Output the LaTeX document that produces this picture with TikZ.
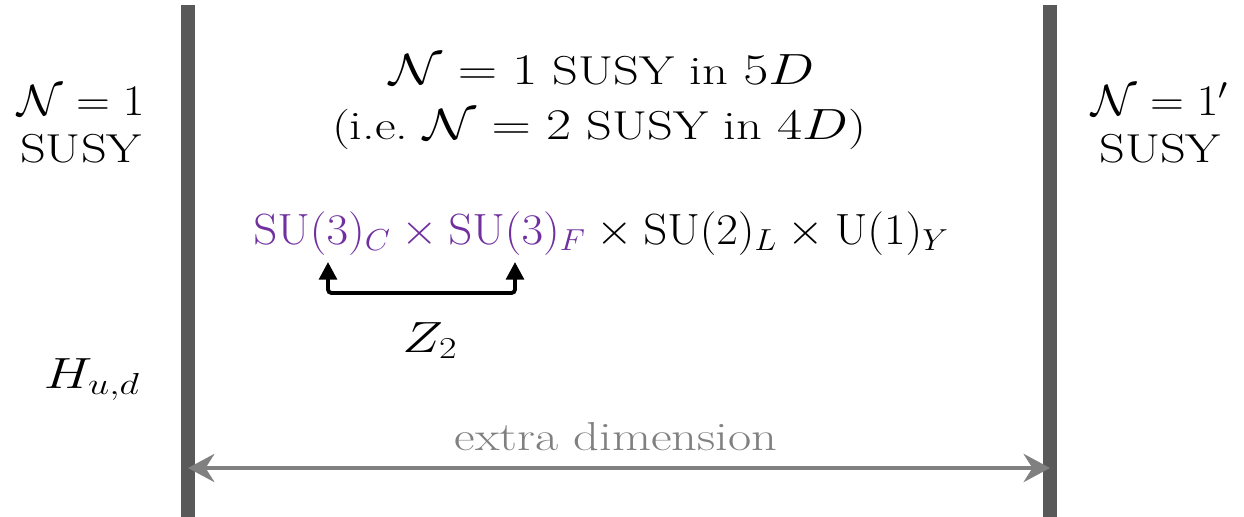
\documentclass[tikz,border=0pt]{standalone}
\usepackage{amsmath,amssymb}
\usepackage{tikz}
\usetikzlibrary{arrows.meta,calc,positioning}
\usepackage{xcolor}
\definecolor{wallgray}{HTML}{595959}
\definecolor{dimgray}{HTML}{808080}
\definecolor{susypurple}{HTML}{7030A0}
\tikzset{
  >=Stealth,
}
\begin{document}
\begin{tikzpicture}[
  x=0.02cm,y=-0.02cm,
  wall/.style={line width=15*0.567pt, wallgray},
  txt/.style={font=\fontsize{23}{28}\selectfont, inner sep=0pt, anchor=base, transform shape, xscale=1.25},
  narrow/.style={xscale=0.86},
  dimarrow/.style={<->, dimgray, line width=2.4pt, >={Stealth[length=15pt,width=16pt,inset=5pt]}},
  zarrow/.style={<->, line width=2.2pt, rounded corners=2pt, >={Stealth[length=10pt,width=10pt,inset=0pt]}}
]
\useasboundingbox (0,0) rectangle (1244,517);

% branes
\coordinate (wallL) at (188,468);
\coordinate (wallR) at (1050,468);
\draw[wall] (188,5) -- (188,517);
\draw[wall] (1050,5) -- (1050,517);

\node[txt, narrow] (braneLa) at (81,115) {$\mathcal{N}=1$};
\node[txt] (braneLb) at (81,162) {SUSY};
\node[txt, narrow] (braneRa) at (1160,115) {$\mathcal{N}=1'$};
\node[txt] (braneRb) at (1160,162) {SUSY};

\node[txt] (bulka) at (602,85) {$\mathcal{N}=1$ SUSY in $5D$};
\node[txt] (bulkb) at (599,139) {(i.e.\ $\mathcal{N}=2$ SUSY in $4D$)};

\node[txt, narrow, anchor=base west] (group) at (253,244)
  {$\textcolor{susypurple}{\mathrm{SU}(3)_C\times\mathrm{SU}(3)_F}\times\mathrm{SU}(2)_L\times\mathrm{U}(1)_Y$};

% Z2 exchange
\coordinate (zC) at (328,262);
\coordinate (zF) at (515,262);
\draw[zarrow] (zC) -- ++(0,31) -| (zF);
\node[txt] (ztwo) at (430,352) {$Z_2$};

\node[txt] (higgs) at (92,388) {$H_{u,d}$};

% extra dimension
\node[txt, dimgray] (xdim) at (616,450) {extra dimension};
\draw[dimarrow] (wallL) -- (wallR);

\end{tikzpicture}
\end{document}
